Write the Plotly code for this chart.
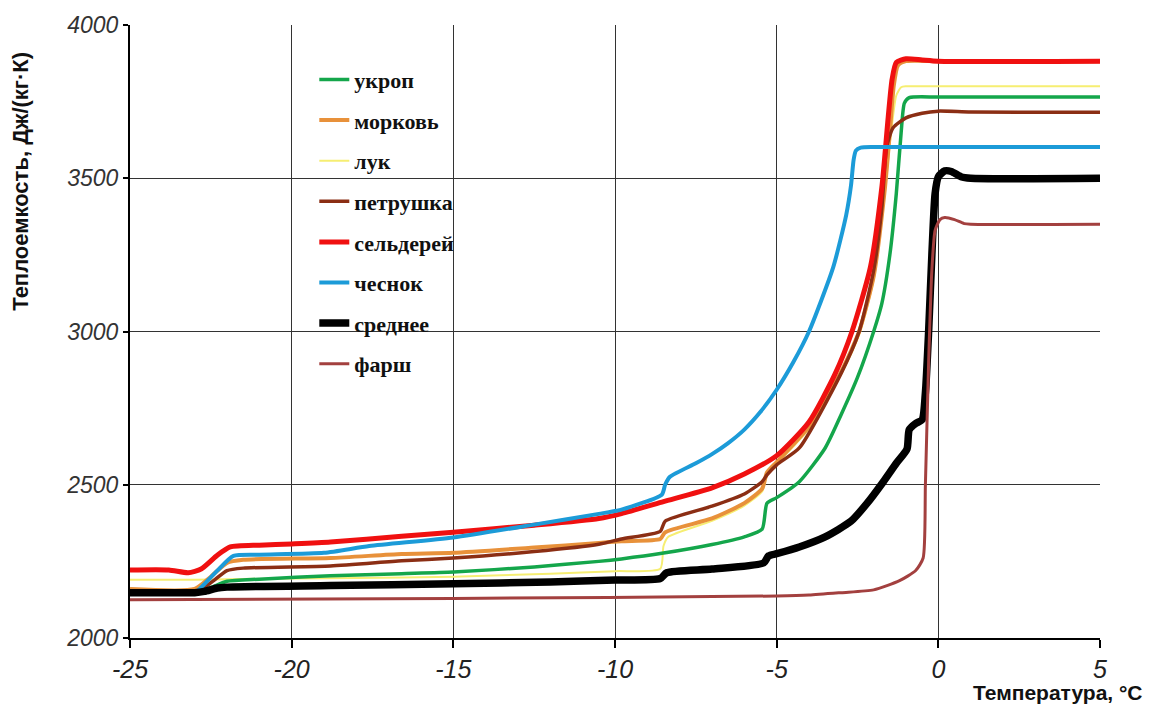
import plotly.graph_objects as go

# ---- data ----
names = ["укроп", "морковь", "лук", "петрушка", "сельдерей", "чеснок", "среднее", "фарш"]

ukrop_x = [-25, -23, -22.5, -22, -21, -18.8, -16.6, -15, -12.5, -10.5, -9.8, -8.5, -7, -6, -5.45, -5.3, -5, -4.3, -3.5, -3, -2.5, -2, -1.75, -1.5, -1.3, -1.15, -1.05, -0.9, 0, 5]
ukrop_y = [2150, 2150, 2165, 2185, 2192, 2203, 2210, 2215, 2232, 2250, 2258, 2277, 2305, 2330, 2355, 2440, 2458, 2510, 2620, 2730, 2850, 3000, 3090, 3250, 3450, 3650, 3745, 3763, 3765, 3765]

morkov_x = [-25, -23, -22.5, -22, -21.5, -18.8, -16.6, -15, -12.5, -10.5, -9.8, -8.6, -8.45, -7, -6, -5.45, -5.3, -5, -4, -3, -2.45, -2, -1.65, -1.5, -1.38, -1.25, -1.0, 0, 5]
morkov_y = [2160, 2160, 2200, 2245, 2255, 2261, 2274, 2278, 2295, 2310, 2316, 2323, 2345, 2390, 2440, 2487, 2540, 2574, 2690, 2870, 3000, 3180, 3470, 3650, 3800, 3868, 3882, 3882, 3882]

luk_x = [-25, -23, -22, -18, -15, -12, -10, -8.6, -8.5, -8.35, -7, -6, -5.45, -5.3, -5, -4, -3, -2.45, -2, -1.65, -1.45, -1.3, -1.15, -1.0, 0, 5]
luk_y = [2190, 2190, 2192, 2196, 2200, 2210, 2218, 2226, 2300, 2330, 2382, 2432, 2478, 2533, 2568, 2682, 2862, 2990, 3170, 3460, 3660, 3770, 3797, 3800, 3800, 3800]

petr_x = [-25, -23, -22.5, -22, -21.5, -18.8, -16.6, -15, -12.5, -10.5, -9.8, -8.6, -8.45, -7, -6, -5.45, -5.3, -5, -4.3, -3, -2.45, -2, -1.75, -1.6, -1.4, -1.0, -0.5, 0, 1, 5]
petr_y = [2150, 2150, 2180, 2220, 2228, 2235, 2252, 2261, 2282, 2306, 2323, 2348, 2381, 2430, 2470, 2510, 2532, 2565, 2620, 2865, 3000, 3200, 3400, 3600, 3665, 3697, 3712, 3719, 3716, 3715]

seld_x = [-25, -23.8, -23.2, -22.8, -22.3, -21.9, -21, -20, -18.8, -16.6, -15, -12.5, -10.5, -9.8, -8.5, -7, -6, -5, -4, -3.2, -2.67, -2.1, -1.74, -1.55, -1.43, -1.3, -1.0, -0.5, 0, 5]
seld_y = [2222, 2222, 2213, 2225, 2270, 2297, 2303, 2307, 2313, 2332, 2345, 2368, 2390, 2406, 2445, 2490, 2535, 2595, 2705, 2860, 3000, 3210, 3477, 3700, 3823, 3878, 3890, 3886, 3882, 3882]

ches_x = [-25, -23, -22.9, -22.3, -21.8, -21, -19, -17.6, -15, -12.5, -10.5, -9.8, -8.55, -8.45, -8.3, -7.5, -7, -6.5, -6, -5.5, -5, -4.5, -4, -3.25, -2.85, -2.7, -2.62, -2.55, -2.4, -2, 0, 5]
ches_y = [2150, 2150, 2155, 2220, 2268, 2272, 2278, 2300, 2328, 2370, 2405, 2419, 2468, 2500, 2526, 2570, 2600, 2636, 2680, 2738, 2810, 2897, 3000, 3210, 3380, 3477, 3560, 3590, 3600, 3602, 3602, 3602]

sred_x = [-25, -23, -22.7, -22.3, -22, -18.8, -15, -12, -10, -8.6, -8.4, -7, -5.4, -5.25, -5, -4.3, -3.5, -2.7, -2.2, -1.7, -1.3, -0.97, -0.9, -0.7, -0.5, -0.4, -0.3, -0.2, -0.1, 0, 0.2, 0.4, 0.7, 1, 5]
sred_y = [2148, 2148, 2152, 2163, 2166, 2171, 2177, 2183, 2189, 2194, 2213, 2225, 2245, 2268, 2275, 2297, 2330, 2381, 2440, 2510, 2570, 2616, 2680, 2700, 2712, 2800, 3000, 3250, 3450, 3505, 3524, 3522, 3505, 3500, 3500]

farsh_x = [-25, -15, -5, -4, -3, -2, -1.2, -0.7, -0.47, -0.4, -0.3, -0.2, -0.1, 0.05, 0.2, 0.5, 0.8, 1, 5]
farsh_y = [2125, 2129, 2137, 2140, 2148, 2157, 2187, 2220, 2261, 2500, 2900, 3200, 3330, 3365, 3372, 3365, 3352, 3350, 3350]

x_ticks = [-25, -20, -15, -10, -5, 0, 5]
x_tick_labels = ["-25", "-20", "-15", "-10", "-5", "0", "5"]
y_ticks = [2000, 2500, 3000, 3500, 4000]
y_tick_labels = ["2000", "2500", "3000", "3500", "4000"]

# ---- styling ----
series = [
    # (name, x, y, color, width, legend rank)
    ("лук", luk_x, luk_y, "#F6EE72", 2, 3),
    ("укроп", ukrop_x, ukrop_y, "#14A64B", 3.5, 1),
    ("морковь", morkov_x, morkov_y, "#E8913A", 4, 2),
    ("петрушка", petr_x, petr_y, "#8B2E14", 3.5, 4),
    ("сельдерей", seld_x, seld_y, "#F01010", 5, 5),
    ("чеснок", ches_x, ches_y, "#1C9BD8", 4, 6),
    ("среднее", sred_x, sred_y, "#000000", 7.5, 7),
    ("фарш", farsh_x, farsh_y, "#A3403F", 3, 8),
]

fig = go.Figure()
for name, xs, ys, color, w, rank in series:
    fig.add_trace(go.Scatter(
        x=xs, y=ys, mode="lines", name=name,
        line=dict(color=color, width=w, shape="spline", smoothing=0.6),
        legendrank=rank, legendgroup=name,
    ))

axis_common = dict(
    showgrid=True, gridcolor="#333333", gridwidth=1.3,
    showline=True, linecolor="black", linewidth=2,
    ticks="outside", tickcolor="black", tickwidth=1.5,
    zeroline=False,
)

fig.update_layout(
    width=1153, height=715,
    margin=dict(l=130, r=53, t=18, b=77),
    paper_bgcolor="white", plot_bgcolor="white",
    showlegend=True,
    legend=dict(
        x=0.19, y=0.945, xanchor="left", yanchor="top",
        bgcolor="rgba(0,0,0,0)", tracegroupgap=9,
        font=dict(family="Liberation Serif", size=22, color="#111", weight="bold"),
        itemwidth=30,
    ),
    xaxis=dict(range=[-25, 5], tickvals=x_ticks,
               ticktext=["<i>%s</i>" % t for t in x_tick_labels], ticklen=8,
               tickfont=dict(family="Liberation Sans", size=25, color="#222"),
               **axis_common),
    yaxis=dict(range=[2000, 4000], tickvals=y_ticks,
               ticktext=["<i>%s</i>" % t for t in y_tick_labels], ticklen=5,
               tickfont=dict(family="Liberation Sans", size=23, color="#333"),
               **axis_common),
    annotations=[
        dict(text="Теплоемкость, Дж/(кг·К)", xref="paper", yref="paper",
             x=-0.113, y=0.745, xanchor="center", yanchor="middle",
             textangle=-90, showarrow=False,
             font=dict(family="Liberation Sans", size=22, color="#111", weight="bold")),
        dict(text="Температура, °С", xref="paper", yref="paper",
             x=1.046, y=-0.0887, xanchor="right", yanchor="middle", showarrow=False,
             font=dict(family="Liberation Sans", size=21, color="#111", weight="bold")),
    ],
)

fig.write_html("out.html")
